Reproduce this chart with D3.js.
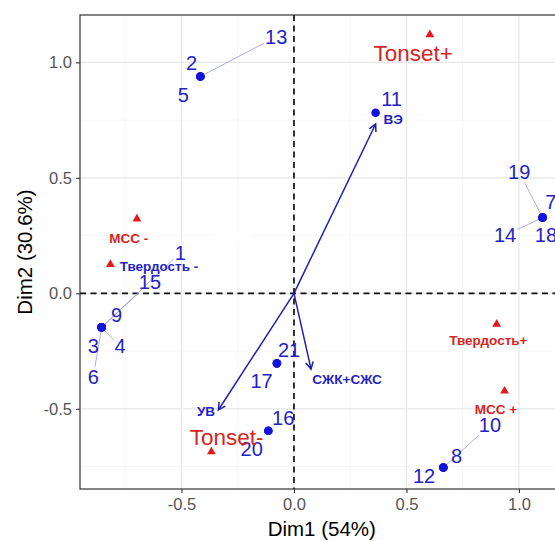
<!DOCTYPE html>
<html>
<head>
<meta charset="utf-8">
<script src="https://cdn.jsdelivr.net/npm/d3@7"></script>
<style>
    body { margin: 0; overflow: hidden; background: white; }
    svg { font-family: "Liberation Sans", Arial, sans-serif; display: block; }
    .tick-label { fill: #555555; font-size: 16.5px; }
    .axis-title { fill: black; font-size: 20.5px; }
    .num { fill: #2323c2; font-size: 20px; }
    .small { font-size: 13.5px; font-weight: bold; }
    .big { font-size: 22.5px; }
</style>
</head>
<body>
<svg></svg>
<script>
// individuals (coordinates on Dim1 / Dim2)
var indivIds = ["1", "2", "3", "4", "5", "6", "7", "8", "9", "10", "11",
    "12", "13", "14", "15", "16", "17", "18", "19", "20", "21"];
var indivX = [-0.855, -0.416, -0.855, -0.855, -0.416, -0.855, 1.105, 0.664, -0.855, 0.664, 0.363,
    0.664, -0.416, 1.105, -0.855, -0.114, -0.076, 1.105, 1.105, -0.114, -0.076];
var indivY = [-0.147, 0.939, -0.147, -0.147, 0.939, -0.147, 0.328, -0.754, -0.147, -0.754, 0.782,
    -0.754, 0.939, 0.328, -0.147, -0.595, -0.303, 0.328, 0.328, -0.595, -0.303];
// where the repelled labels ended up
var indivLabelX = [-0.505, -0.455, -0.892, -0.773, -0.492, -0.892, 1.142, 0.723, -0.788, 0.871, 0.434,
    0.578, -0.079, 0.938, -0.640, -0.048, -0.144, 1.120, 1.001, -0.188, -0.022];
var indivLabelY = [0.177, 0.997, -0.228, -0.228, 0.858, -0.361, 0.395, -0.704, -0.091, -0.570, 0.841,
    -0.789, 1.111, 0.252, 0.048, -0.537, -0.377, 0.252, 0.526, -0.672, -0.245];
var segmentIds = ["1", "4", "6", "10", "13", "14", "15", "19"];

// supplementary categories (triangles)
var suppNames = ["Tonset+", "Tonset-", "МСС -", "Твердость -", "Твердость+", "МСС +"];
var suppX = [0.604, -0.367, -0.698, -0.816, 0.901, 0.936];
var suppY = [1.120, -0.686, 0.322, 0.125, -0.133, -0.423];
var suppLabelX = [0.530, -0.299, -0.734, -0.600, 0.864, 0.898];
var suppLabelY = [1.039, -0.621, 0.238, 0.119, -0.202, -0.502];

// supplementary variables (arrows)
var varNames = ["ВЭ", "УВ", "СЖК+СЖС"];
var varX = [0.363, -0.336, 0.076];
var varY = [0.733, -0.505, -0.328];
var varLabelX = [0.441, -0.391, 0.236];
var varLabelY = [0.753, -0.510, -0.370];

var xTicks = [-0.5, 0.0, 0.5, 1.0];
var yTicks = [-0.5, 0.0, 0.5, 1.0];
var xMinor = [-0.75, -0.25, 0.25, 0.75];
var yMinor = [-0.75, -0.25, 0.25, 0.75];
var blankPatch = [-0.351, 0.213, -0.187, 0.270];

var makeTranslateString = function (x, y) {
    return "translate(" + x + "," + y + ")";
}

var initGraph = function () {
    var screen = { width: 555, height: 541 }
    var margins = { left: 80, top: 15 }
    var graph = { width: 483.5, height: 474 }

    var svg = d3.select("svg")
        .attr("width", screen.width)
        .attr("height", screen.height)

    var xScale = d3.scaleLinear()
        .domain([-0.951, 1.198])
        .range([margins.left, margins.left + graph.width])
    var yScale = d3.scaleLinear()
        .domain([-0.847, 1.205])
        .range([margins.top + graph.height, margins.top])

    var x0 = margins.left, x1 = margins.left + graph.width
    var y0 = margins.top, y1 = margins.top + graph.height

    // grid
    var grid = svg.append("g")
    grid.selectAll(".vminor").data(xMinor).enter().append("line")
        .attr("x1", xScale).attr("x2", xScale).attr("y1", y0).attr("y2", y1)
        .attr("stroke", "#f0f0f0").attr("stroke-width", 0.6)
    grid.selectAll(".hminor").data(yMinor).enter().append("line")
        .attr("y1", yScale).attr("y2", yScale).attr("x1", x0).attr("x2", x1)
        .attr("stroke", "#f0f0f0").attr("stroke-width", 0.6)
    grid.selectAll(".vmajor").data(xTicks).enter().append("line")
        .attr("x1", xScale).attr("x2", xScale).attr("y1", y0).attr("y2", y1)
        .attr("stroke", "#e6e6e6").attr("stroke-width", 1.1)
    grid.selectAll(".hmajor").data(yTicks).enter().append("line")
        .attr("y1", yScale).attr("y2", yScale).attr("x1", x0).attr("x2", x1)
        .attr("stroke", "#e6e6e6").attr("stroke-width", 1.1)

    svg.append("rect")
        .attr("x", xScale(blankPatch[0]))
        .attr("y", yScale(blankPatch[3]))
        .attr("width", xScale(blankPatch[2]) - xScale(blankPatch[0]))
        .attr("height", yScale(blankPatch[1]) - yScale(blankPatch[3]))
        .attr("fill", "white")

    // dashed origin lines
    svg.append("line")
        .attr("x1", xScale(0)).attr("x2", xScale(0)).attr("y1", y0).attr("y2", y1)
        .attr("stroke", "#111").attr("stroke-width", 1.7).attr("stroke-dasharray", "6,4.5")
    svg.append("line")
        .attr("y1", yScale(0)).attr("y2", yScale(0)).attr("x1", x0).attr("x2", x1)
        .attr("stroke", "#111").attr("stroke-width", 1.7).attr("stroke-dasharray", "6,4.5")

    // axes
    var xAxis = d3.axisBottom(xScale).tickValues(xTicks).tickSize(4).tickPadding(4)
        .tickFormat(function (d) { return d.toFixed(1) })
    var yAxis = d3.axisLeft(yScale).tickValues(yTicks).tickSize(4).tickPadding(4)
        .tickFormat(function (d) { return d.toFixed(1) })
    var gx = svg.append("g").attr("transform", makeTranslateString(0, y1)).call(xAxis)
    var gy = svg.append("g").attr("transform", makeTranslateString(x0, 0)).call(yAxis)
    ;[gx, gy].forEach(function (g) {
        g.select(".domain").remove()
        g.selectAll("line").attr("stroke", "#333").attr("stroke-width", 1.1)
        g.selectAll("text").attr("class", "tick-label").attr("font-family", null).attr("font-size", null)
    })
    gx.selectAll("text").attr("dy", "0.71em").attr("y", 9)

    svg.append("rect")
        .attr("x", x0).attr("y", y0)
        .attr("width", graph.width).attr("height", graph.height)
        .attr("fill", "none").attr("stroke", "#333").attr("stroke-width", 1.2)

    svg.append("text").classed("axis-title", true)
        .attr("text-anchor", "middle")
        .attr("x", (x0 + x1) / 2).attr("y", 536)
        .text("Dim1 (54%)")
    svg.append("g").attr("transform", makeTranslateString(32, (y0 + y1) / 2))
        .append("text").classed("axis-title", true)
        .attr("text-anchor", "middle")
        .attr("transform", "rotate(-90)")
        .text("Dim2 (30.6%)")

    // arrows
    var arrows = svg.append("g")
        .attr("stroke", "#2020aa").attr("stroke-width", 1.5).attr("fill", "none")
    varNames.forEach(function (name, i) {
        var sx = xScale(0), sy = yScale(0)
        var tx = xScale(varX[i]), ty = yScale(varY[i])
        var ang = Math.atan2(ty - sy, tx - sx)
        var len = 8, spread = Math.PI / 6.5
        arrows.append("line")
            .attr("x1", sx).attr("y1", sy).attr("x2", tx).attr("y2", ty)
        arrows.append("path")
            .attr("d", "M" + (tx - len * Math.cos(ang - spread)) + "," + (ty - len * Math.sin(ang - spread)) +
                "L" + tx + "," + ty +
                "L" + (tx - len * Math.cos(ang + spread)) + "," + (ty - len * Math.sin(ang + spread)))
    })

    var segLayer = svg.append("g")
        .attr("stroke", "#9a9ad8").attr("stroke-width", 0.8)

    // triangles
    svg.append("g").selectAll("path")
        .data(suppNames).enter().append("path")
        .attr("d", d3.symbol(d3.symbolTriangle).size(34))
        .attr("transform", function (d, i) {
            return makeTranslateString(xScale(suppX[i]), yScale(suppY[i]))
        })
        .attr("fill", "#e31a1c")

    // points
    svg.append("g").selectAll("circle")
        .data(indivIds).enter().append("circle")
        .attr("cx", function (d, i) { return xScale(indivX[i]) })
        .attr("cy", function (d, i) { return yScale(indivY[i]) })
        .attr("r", 4.3)
        .attr("fill", "#1212e0")

    // labels
    var numLabels = svg.append("g").selectAll("text")
        .data(indivIds).enter().append("text")
        .classed("num", true)
        .attr("text-anchor", "middle")
        .attr("x", function (d, i) { return xScale(indivLabelX[i]) })
        .attr("y", function (d, i) { return yScale(indivLabelY[i]) })
        .attr("dy", "0.36em")
        .text(function (d) { return d })

    svg.append("g").selectAll("text")
        .data(suppNames).enter().append("text")
        .attr("class", function (d) { return d.indexOf("Tonset") === 0 ? "big" : "small" })
        .attr("fill", function (d) { return d === "Твердость -" ? "#2323c2" : "#d92424" })
        .attr("text-anchor", "middle")
        .attr("x", function (d, i) { return xScale(suppLabelX[i]) })
        .attr("y", function (d, i) { return yScale(suppLabelY[i]) })
        .attr("dy", "0.36em")
        .text(function (d) { return d })

    svg.append("g").selectAll("text")
        .data(varNames).enter().append("text")
        .classed("small", true)
        .attr("fill", "#2323c2")
        .attr("text-anchor", "middle")
        .attr("x", function (d, i) { return xScale(varLabelX[i]) })
        .attr("y", function (d, i) { return yScale(varLabelY[i]) })
        .attr("dy", "0.36em")
        .text(function (d) { return d })

    // repel segments: from the point to the edge of the label box
    numLabels.each(function (d, i) {
        if (segmentIds.indexOf(d) < 0) return
        var box = this.getBBox()
        var cx = box.x + box.width / 2, cy = box.y + box.height / 2
        var px = xScale(indivX[i]), py = yScale(indivY[i])
        var dx = px - cx, dy = py - cy
        var hw = box.width / 2 + 1, hh = box.height / 2 - 1
        var t = Math.min(Math.abs(hw / dx), Math.abs(hh / dy))
        var dist = Math.sqrt(dx * dx + dy * dy)
        var pad = 4 / dist
        segLayer.append("line")
            .attr("x1", px - dx * pad).attr("y1", py - dy * pad)
            .attr("x2", cx + dx * t).attr("y2", cy + dy * t)
    })
}

initGraph()
</script>
</body>
</html>
